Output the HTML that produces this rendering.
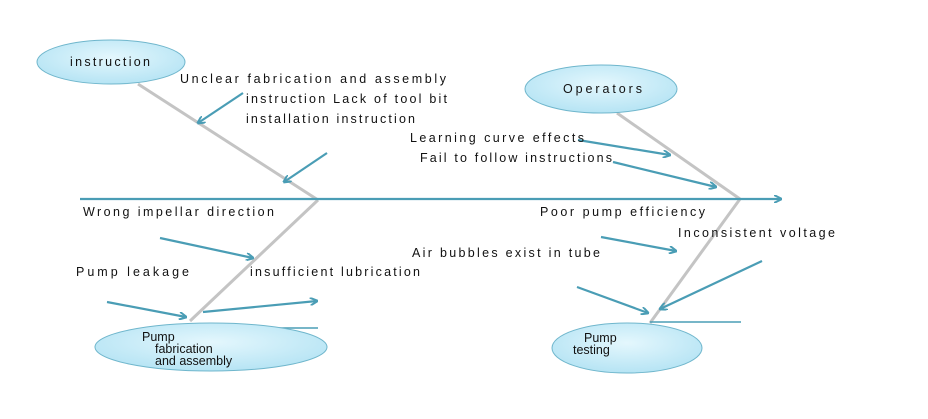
<!DOCTYPE html>
<html><head><meta charset="utf-8"><style>
html,body{margin:0;padding:0;background:#fff;}
svg{display:block;}
text{font-family:"Liberation Sans",Arial,sans-serif;font-size:12.5px;fill:#111;}
</style></head><body>
<svg width="928" height="419" viewBox="0 0 928 419">
<defs>
<radialGradient id="g" cx="50%" cy="40%" r="60%">
<stop offset="0" stop-color="#e4f7fd"/><stop offset="1" stop-color="#b6e4f4"/>
</radialGradient>
<marker id="a" markerWidth="8" markerHeight="8" refX="7" refY="4" orient="auto" markerUnits="userSpaceOnUse">
<path d="M0,0 L8,4 L0,8" fill="none" stroke="#4a9db5" stroke-width="2"/>
</marker>
</defs>
<g stroke="#c4c4c4" stroke-width="3" fill="none">
<line x1="138" y1="84" x2="318" y2="200"/>
<line x1="318" y1="200" x2="190" y2="321"/>
<line x1="617" y1="113" x2="740" y2="199"/>
<line x1="740" y1="199" x2="650" y2="323"/>
</g>
<g stroke="#4a9db5" stroke-width="2.2" fill="none" marker-end="url(#a)">
<line x1="80" y1="199" x2="781" y2="199"/>
<line x1="243" y1="93" x2="198" y2="123"/>
<line x1="327" y1="153" x2="284" y2="182"/>
<line x1="578" y1="140" x2="670" y2="155"/>
<line x1="613" y1="162" x2="716" y2="187"/>
<line x1="601" y1="237" x2="676" y2="251"/>
<line x1="762" y1="261" x2="660" y2="309"/>
<line x1="577" y1="287" x2="648" y2="313"/>
<line x1="160" y1="238" x2="253" y2="258"/>
<line x1="107" y1="302" x2="186" y2="317"/>
<line x1="203" y1="312" x2="317" y2="301"/>
</g>
<g stroke="#4a9db5" stroke-width="1.5">
<line x1="240" y1="328" x2="318" y2="328"/>
<line x1="650" y1="322" x2="741" y2="322"/>
</g>
<g fill="url(#g)" stroke="#6fb6cc" stroke-width="1">
<ellipse cx="111" cy="62" rx="74" ry="22"/>
<ellipse cx="601" cy="89" rx="76" ry="24"/>
<ellipse cx="211" cy="347" rx="116" ry="24"/>
<ellipse cx="627" cy="348" rx="75" ry="25"/>
</g>
<text x="70" y="66" textLength="80">instruction</text>
<text x="563" y="93" textLength="79">Operators</text>
<text x="142" y="341">Pump</text>
<text x="155" y="353">fabrication</text>
<text x="155" y="365">and assembly</text>
<text x="584" y="342">Pump</text>
<text x="573" y="354">testing</text>
<text x="180" y="83" textLength="266">Unclear fabrication and assembly</text>
<text x="246" y="103" textLength="201">instruction Lack of tool bit</text>
<text x="246" y="123" textLength="169">installation instruction</text>
<text x="410" y="142" textLength="174">Learning curve effects</text>
<text x="420" y="162" textLength="192">Fail to follow instructions</text>
<text x="83" y="216" textLength="191">Wrong impellar direction</text>
<text x="540" y="216" textLength="165">Poor pump efficiency</text>
<text x="678" y="237" textLength="157">Inconsistent voltage</text>
<text x="412" y="257" textLength="188">Air bubbles exist in tube</text>
<text x="76" y="276" textLength="113">Pump leakage</text>
<text x="250" y="276" textLength="170">insufficient lubrication</text>
</svg>
</body></html>
